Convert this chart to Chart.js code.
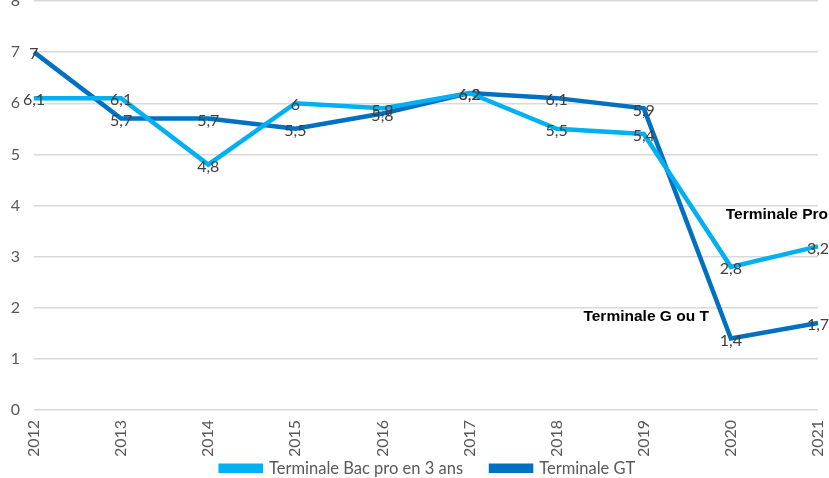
<!DOCTYPE html>
<html>
<head>
<meta charset="utf-8">
<script src="https://cdn.jsdelivr.net/npm/chart.js@4"></script>
<style>
  html, body { margin: 0; padding: 0; background: #fff; }
  #wrap { width: 829px; height: 478px; }
</style>
</head>
<body>
<div id="wrap"><canvas id="chart"></canvas></div>
<script>
// values
const years = ['2012', '2013', '2014', '2015', '2016', '2017', '2018', '2019', '2020', '2021'];
const bacPro = [6.1, 6.1, 4.8, 6, 5.9, 6.2, 5.5, 5.4, 2.8, 3.2];
const gt = [7, 5.7, 5.7, 5.5, 5.8, 6.2, 6.1, 5.9, 1.4, 1.7];
const yTicks = [0, 1, 2, 3, 4, 5, 6, 7, 8];

const FONT = 'Lato, "Open Sans", sans-serif';
const LIGHT = '#00b0f0';
const DARK = '#0070c0';
const LEGEND_PAD = 28;

// draws the value labels (comma decimals) and the two bold notes
const labelsPlugin = {
    id: 'pointLabels',
    afterDatasetsDraw(chart) {
        const ctx = chart.ctx;
        ctx.save();
        ctx.font = '16px ' + FONT;
        ctx.fillStyle = '#404040';
        ctx.textAlign = 'center';
        ctx.textBaseline = 'middle';
        chart.data.datasets.forEach((ds, i) => {
            chart.getDatasetMeta(i).data.forEach((pt, j) => {
                ctx.fillText(String(ds.data[j]).replace('.', ','), pt.x, pt.y + 2);
            });
        });

        const x = chart.scales.x, y = chart.scales.y;
        ctx.font = 'bold 15.5px "Liberation Sans", Arial, sans-serif';
        ctx.fillStyle = '#000';
        ctx.textAlign = 'right';
        ctx.fillText('Terminale Pro', x.getPixelForValue(9) + 10, y.getPixelForValue(3.82));
        ctx.fillText('Terminale G ou T', x.getPixelForValue(8) - 22, y.getPixelForValue(1.82));
        ctx.restore();
    }
};

// keep the legend short so the plot can reach down like the original
const legendFit = {
    id: 'legendFit',
    beforeLayout(chart) {
        const lg = chart.legend;
        if (!lg || lg._fitPatched) return;
        const orig = lg.fit;
        lg.fit = function () { orig.call(this); this.height = 22; };
        lg._fitPatched = true;
    },
    afterLayout(chart) {
        const lg = chart.legend;
        lg.top -= LEGEND_PAD - 4;
        lg.height = lg.bottom - lg.top;
        lg.left += 19;
        lg.right += 19;
    }
};

new Chart(document.getElementById('chart'), {
    type: 'line',
    data: {
        labels: years,
        datasets: [
            { label: 'Terminale Bac pro en 3 ans', data: bacPro, borderColor: LIGHT, backgroundColor: LIGHT, borderWidth: 4.5, pointRadius: 0, tension: 0 },
            { label: 'Terminale GT', data: gt, borderColor: DARK, backgroundColor: DARK, borderWidth: 4.5, pointRadius: 0, tension: 0 }
        ]
    },
    options: {
        responsive: true,
        maintainAspectRatio: false,
        animation: false,
        layout: { padding: { top: 1, right: 11, left: 0, bottom: 0 } },
        plugins: {
            tooltip: { enabled: false },
            legend: {
                position: 'bottom',
                labels: {
                    font: { size: 16.5, family: FONT },
                    color: '#595959',
                    boxWidth: 40,
                    boxHeight: 5,
                    padding: LEGEND_PAD
                }
            }
        },
        scales: {
            x: {
                grid: { display: false, drawTicks: false },
                border: { display: false },
                afterFit: s => { s.height = 46; s.paddingLeft = 0; s.paddingRight = 0; },
                ticks: { color: '#595959', font: { size: 16, family: FONT }, maxRotation: 90, minRotation: 90, padding: 10 }
            },
            y: {
                min: 0,
                max: 8,
                afterBuildTicks: s => { s.ticks = yTicks.map(v => ({ value: v })); },
                afterFit: s => { s.width = 34; s.paddingTop = 0; s.paddingBottom = 0; },
                grid: { color: '#d9d9d9', lineWidth: 1.5, drawTicks: false },
                border: { display: false },
                ticks: { color: '#595959', font: { size: 16, family: FONT }, padding: 14 }
            }
        }
    },
    plugins: [labelsPlugin, legendFit]
});
</script>
</body>
</html>
